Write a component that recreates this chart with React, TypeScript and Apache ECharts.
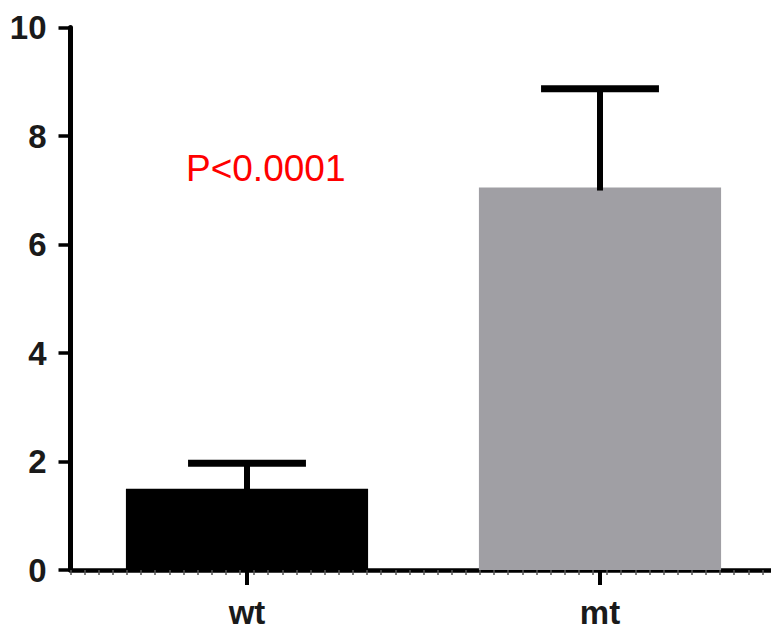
import React, { useEffect, useRef } from "react";
import * as echarts from "echarts";

const categories = ["wt", "mt"];
const means = [1.5, 7.05];
const errors = [0.47, 1.82];
const barColors = ["#000000", "#a09fa4"];
const yTicks = { min: 0, max: 10, interval: 2 };
const annotation = "P<0.0001";

export default function App() {
  const ref = useRef<HTMLDivElement>(null);
  useEffect(() => {
    if (!ref.current) return;
    const chart = echarts.init(ref.current, null, { renderer: "svg" });
    const font = "'Liberation Sans', Arial, sans-serif";
    chart.setOption({
      animation: false,
      backgroundColor: "#ffffff",
      grid: { left: 70.5, top: 27.5, width: 706, height: 542.5, containLabel: false },
      xAxis: [
        {
          type: "category",
          data: categories,
          position: "bottom",
          axisLine: { show: true, lineStyle: { color: "#000", width: 4.5 } },
          axisTick: { show: true, alignWithLabel: true, length: 15, lineStyle: { color: "#000", width: 4 } },
          axisLabel: { margin: 26, fontSize: 33, fontWeight: "bold", color: "#1a1a1a", fontFamily: font },
          splitLine: { show: false },
        },
        {
          type: "value",
          min: 0,
          max: 50,
          interval: 1,
          position: "bottom",
          axisLine: { show: false },
          axisTick: { show: true, length: 5, lineStyle: { color: "#555", width: 1.5 } },
          axisLabel: { show: false },
          splitLine: { show: false },
        },
      ],
      yAxis: {
        type: "value",
        min: yTicks.min,
        max: yTicks.max,
        interval: yTicks.interval,
        axisLine: { show: true, lineStyle: { color: "#000", width: 5 } },
        axisTick: { show: true, length: 12, lineStyle: { color: "#000", width: 3.5 } },
        axisLabel: { margin: 24, fontSize: 33, fontWeight: "bold", color: "#1a1a1a", fontFamily: font },
        splitLine: { show: false },
      },
      series: [
        {
          type: "bar",
          xAxisIndex: 0,
          barWidth: "68.6%",
          data: means.map((v, i) => ({ value: v, itemStyle: { color: barColors[i] } })),
          z: 2,
        },
        {
          type: "custom",
          xAxisIndex: 0,
          z: 3,
          data: means.map((m, i) => [i, m, m + errors[i]]),
          renderItem: (params: any, api: any) => {
            const x = api.value(0);
            const base = api.coord([x, api.value(1)]);
            const top = api.coord([x, api.value(2)]);
            const band = api.size([1, 0])[0];
            const half = band * 0.167;
            return {
              type: "group",
              children: [
                {
                  type: "line",
                  shape: { x1: top[0], y1: base[1] + 3, x2: top[0], y2: top[1] },
                  style: { stroke: "#000", lineWidth: 6 },
                },
                {
                  type: "line",
                  shape: { x1: top[0] - half, y1: top[1], x2: top[0] + half, y2: top[1] },
                  style: { stroke: "#000", lineWidth: 7 },
                },
              ],
            };
          },
        },
      ],
      graphic: [
        {
          type: "text",
          left: 186,
          top: 150,
          style: { text: annotation, fill: "#ff0000", fontSize: 37, fontFamily: font },
        },
      ],
    });
    return () => chart.dispose();
  }, []);
  return <div ref={ref} style={{ position: "fixed", left: 0, top: 0, width: 780, height: 632 }} />;
}
